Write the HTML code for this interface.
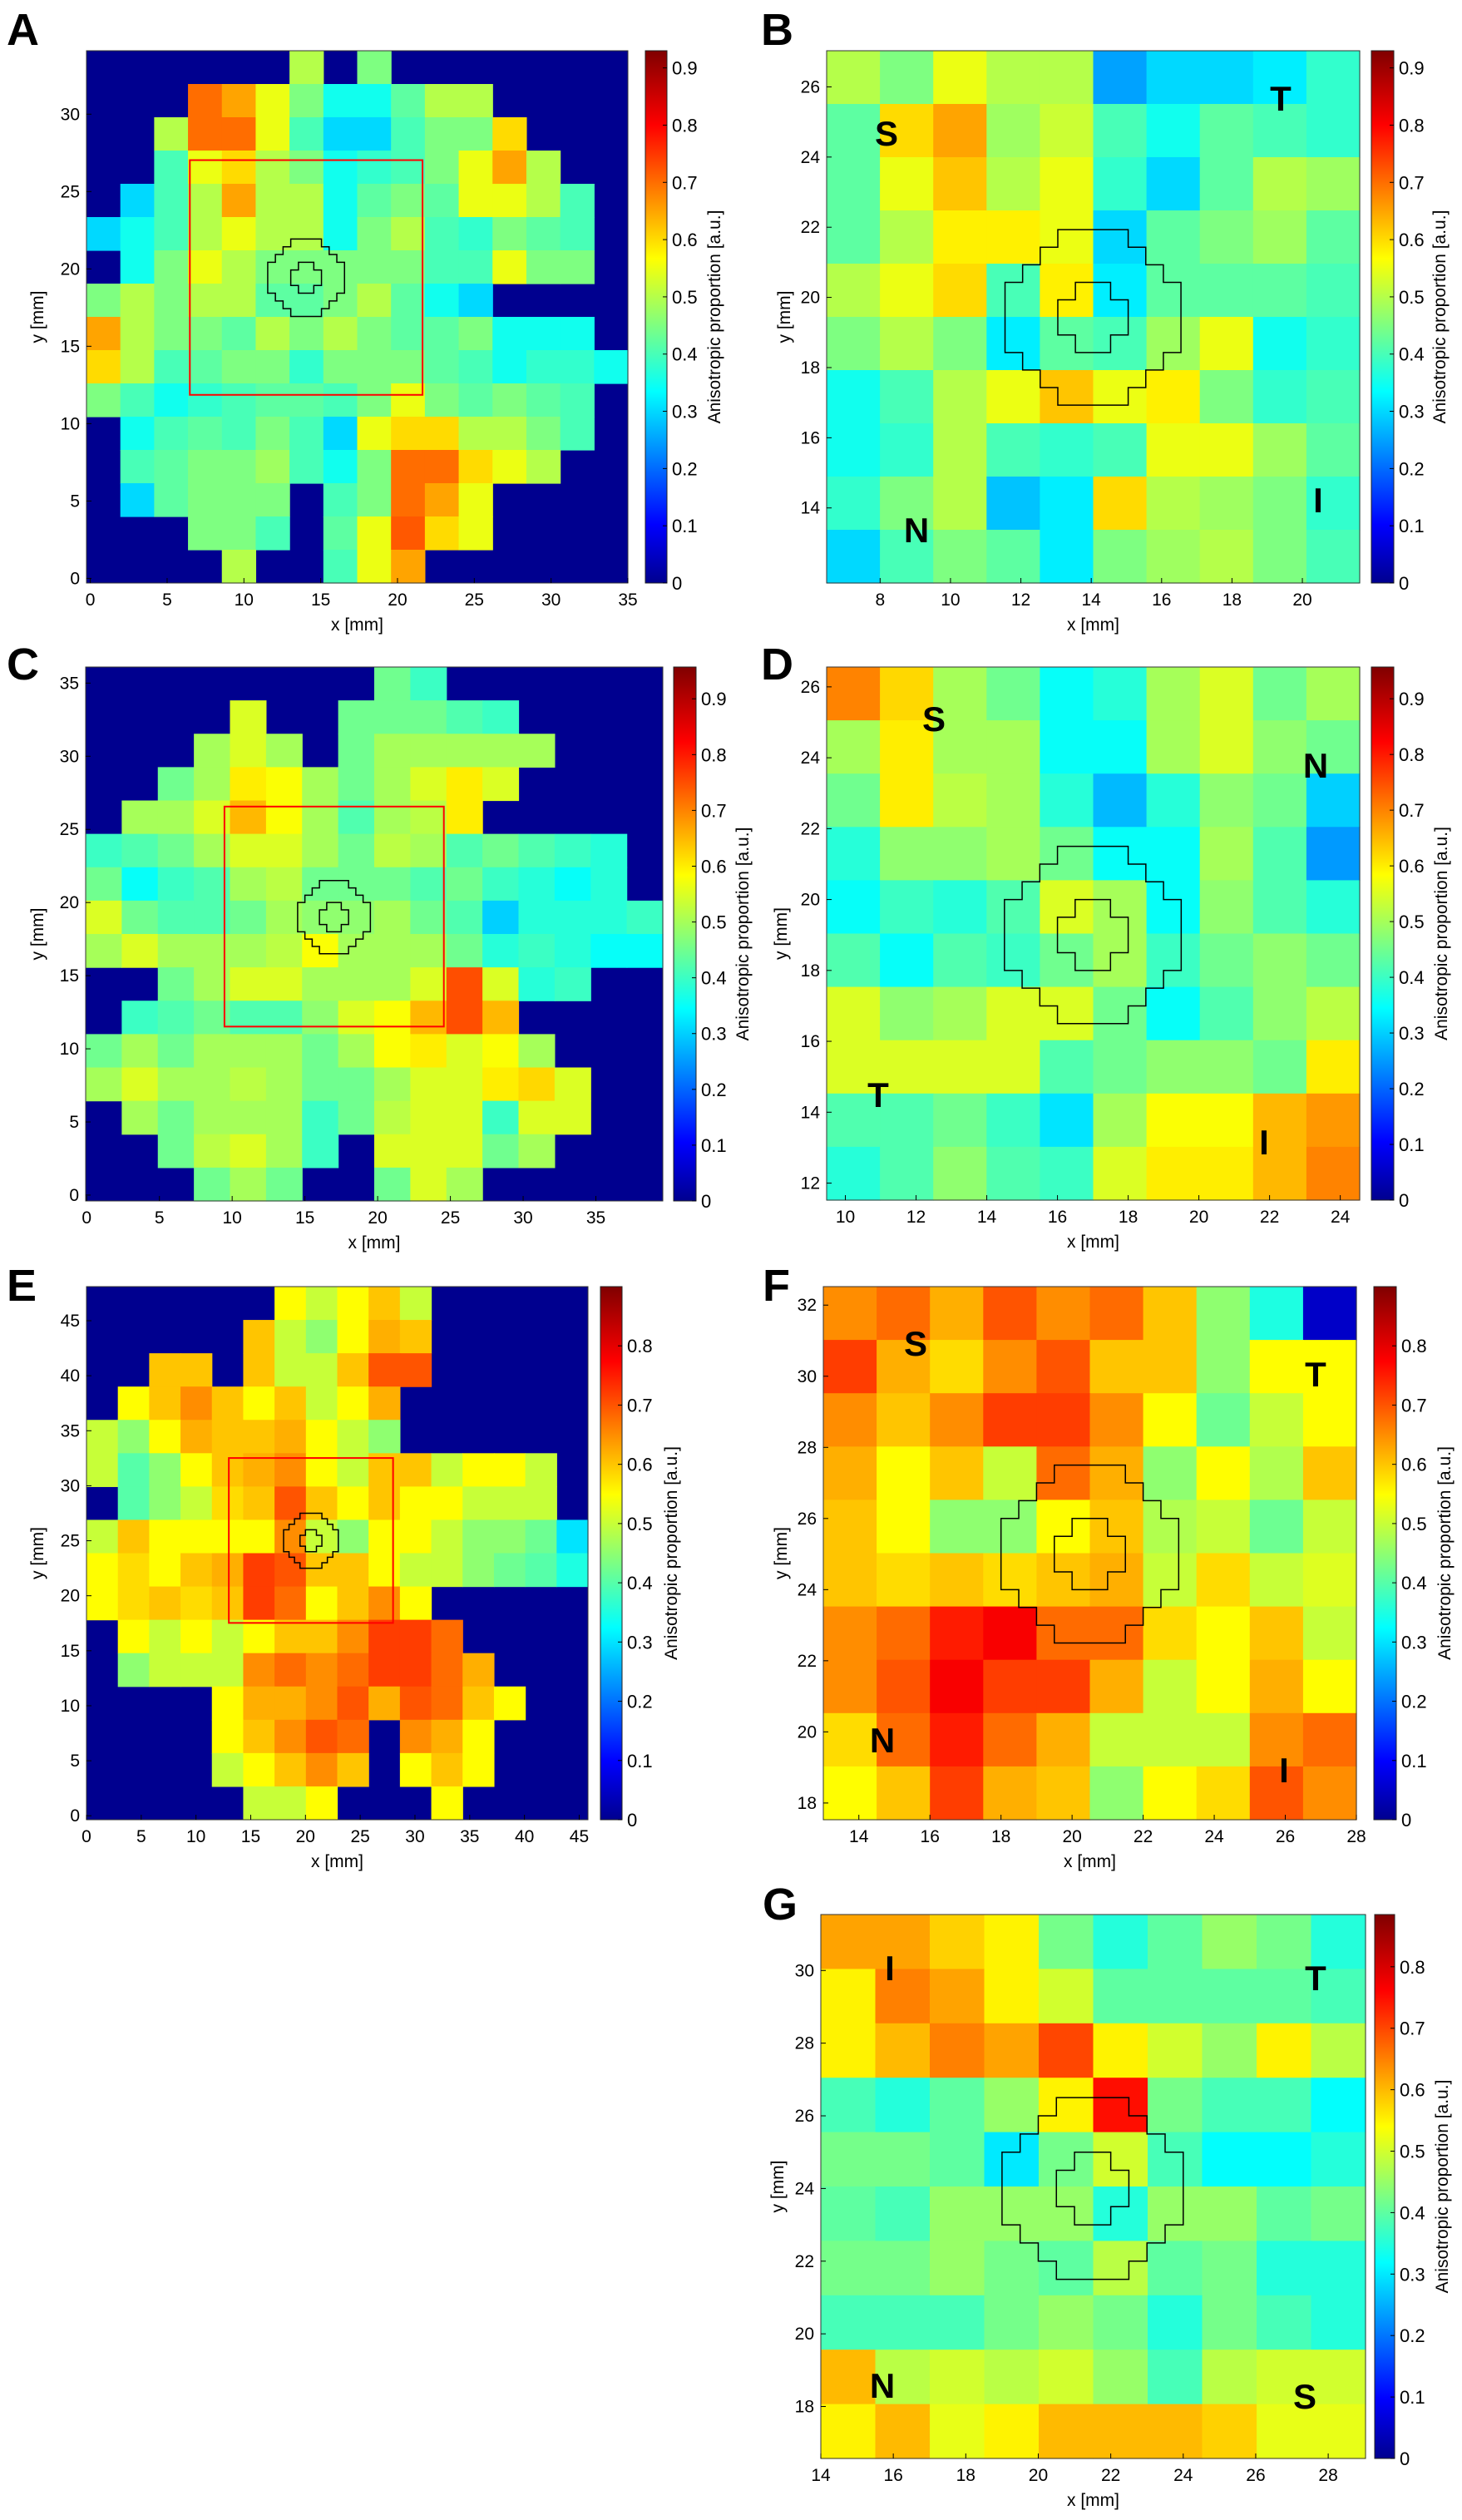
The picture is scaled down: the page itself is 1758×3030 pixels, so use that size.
<!DOCTYPE html>
<html><head><meta charset="utf-8"><style>
html,body{margin:0;padding:0;background:#fff;}
svg{display:block;}
text{font-family:"Liberation Sans",sans-serif;fill:#000;}
</style></head><body>
<svg id="fig" xmlns="http://www.w3.org/2000/svg" width="1758" height="3030" viewBox="0 0 1758 3030">
<defs>
<linearGradient id="jet" x1="0" y1="1" x2="0" y2="0">
<stop offset="0" stop-color="#00008f"/><stop offset="0.11" stop-color="#0000ff"/><stop offset="0.36" stop-color="#00ffff"/><stop offset="0.61" stop-color="#ffff00"/><stop offset="0.86" stop-color="#ff0000"/><stop offset="1" stop-color="#800000"/>
</linearGradient>
</defs>
</svg>
<script>
// ---------- data ----------
const aValues = [
[0,0,0,0,0,0,0.5,0,0.45,0,0,0,0,0,0,0],
[0,0,0,0.7,0.65,0.55,0.45,0.35,0.35,0.42,0.5,0.5,0,0,0,0],
[0,0,0.5,0.7,0.7,0.55,0.4,0.3,0.3,0.4,0.45,0.45,0.6,0,0,0],
[0,0,0.4,0.55,0.6,0.5,0.45,0.35,0.38,0.4,0.45,0.55,0.65,0.5,0,0],
[0,0.3,0.4,0.5,0.65,0.5,0.5,0.35,0.42,0.45,0.42,0.55,0.55,0.5,0.4,0],
[0.3,0.35,0.4,0.5,0.55,0.5,0.5,0.35,0.45,0.5,0.4,0.38,0.45,0.42,0.4,0],
[0,0.35,0.45,0.55,0.5,0.45,0.45,0.45,0.45,0.45,0.4,0.4,0.55,0.45,0.45,0],
[0.45,0.5,0.45,0.5,0.5,0.42,0.42,0.45,0.5,0.42,0.35,0.3,0,0,0,0],
[0.65,0.5,0.45,0.45,0.42,0.5,0.45,0.5,0.45,0.42,0.42,0.45,0.35,0.35,0.35,0],
[0.6,0.5,0.4,0.42,0.45,0.45,0.38,0.45,0.45,0.45,0.42,0.4,0.35,0.38,0.38,0.35],
[0.45,0.4,0.35,0.38,0.4,0.42,0.42,0.4,0.45,0.55,0.45,0.42,0.45,0.42,0.4,0],
[0,0.35,0.4,0.42,0.4,0.45,0.4,0.3,0.55,0.6,0.6,0.5,0.5,0.45,0.4,0],
[0,0.4,0.42,0.45,0.45,0.48,0.4,0.35,0.45,0.7,0.7,0.6,0.55,0.5,0,0],
[0,0.3,0.42,0.45,0.45,0.45,0,0.4,0.45,0.7,0.65,0.55,0,0,0,0],
[0,0,0,0.45,0.45,0.4,0,0.42,0.55,0.72,0.6,0.55,0,0,0,0],
[0,0,0,0,0.5,0,0,0.4,0.55,0.65,0,0,0,0,0,0]];
const bValues = [
[0.5,0.45,0.55,0.5,0.5,0.25,0.3,0.3,0.32,0.38],
[0.42,0.6,0.65,0.48,0.52,0.4,0.35,0.42,0.4,0.38],
[0.42,0.55,0.62,0.5,0.55,0.38,0.3,0.42,0.5,0.48],
[0.42,0.5,0.58,0.58,0.55,0.3,0.42,0.45,0.48,0.42],
[0.5,0.55,0.6,0.4,0.58,0.32,0.42,0.42,0.42,0.4],
[0.45,0.5,0.45,0.32,0.42,0.4,0.48,0.55,0.35,0.38],
[0.35,0.4,0.5,0.55,0.62,0.55,0.58,0.45,0.38,0.4],
[0.35,0.38,0.5,0.4,0.38,0.4,0.55,0.55,0.48,0.42],
[0.38,0.45,0.5,0.28,0.32,0.6,0.5,0.48,0.45,0.38],
[0.3,0.4,0.45,0.42,0.32,0.45,0.48,0.5,0.45,0.4]];
const cValues = [
[0,0,0,0,0,0,0,0,0.45,0.4,0,0,0,0,0,0],
[0,0,0,0,0.55,0,0,0.45,0.45,0.45,0.42,0.4,0,0,0,0],
[0,0,0,0.5,0.55,0.5,0,0.45,0.5,0.5,0.5,0.5,0.5,0,0,0],
[0,0,0.45,0.5,0.6,0.58,0.5,0.45,0.5,0.55,0.6,0.55,0,0,0,0],
[0,0.5,0.5,0.55,0.65,0.58,0.5,0.42,0.5,0.52,0.6,0,0,0,0,0],
[0.4,0.42,0.45,0.5,0.55,0.55,0.5,0.45,0.52,0.5,0.42,0.45,0.42,0.4,0.38,0],
[0.45,0.35,0.4,0.42,0.5,0.52,0.45,0.45,0.45,0.42,0.45,0.4,0.38,0.35,0.38,0],
[0.55,0.45,0.42,0.42,0.45,0.5,0.48,0.48,0.5,0.45,0.42,0.3,0.38,0.38,0.38,0.4],
[0.5,0.55,0.5,0.5,0.5,0.52,0.58,0.5,0.5,0.5,0.45,0.38,0.4,0.38,0.35,0.35],
[0,0,0.45,0.5,0.55,0.55,0.5,0.5,0.5,0.55,0.75,0.55,0.38,0.4,0,0],
[0,0.4,0.42,0.45,0.42,0.42,0.48,0.55,0.58,0.65,0.75,0.65,0,0,0,0],
[0.45,0.5,0.45,0.5,0.5,0.5,0.45,0.5,0.58,0.6,0.55,0.58,0.5,0,0,0],
[0.5,0.55,0.5,0.5,0.52,0.5,0.45,0.45,0.5,0.55,0.55,0.6,0.62,0.55,0,0],
[0,0.5,0.45,0.5,0.5,0.5,0.4,0.45,0.52,0.55,0.55,0.4,0.55,0.55,0,0],
[0,0,0.45,0.52,0.55,0.5,0.4,0,0.55,0.55,0.55,0.45,0.5,0,0,0],
[0,0,0,0.45,0.5,0.45,0,0,0.45,0.55,0.5,0,0,0,0,0]];
const dValues = [
[0.7,0.62,0.5,0.45,0.35,0.38,0.5,0.55,0.45,0.5],
[0.5,0.6,0.5,0.5,0.35,0.35,0.5,0.55,0.48,0.45],
[0.45,0.6,0.52,0.5,0.38,0.28,0.38,0.48,0.45,0.3],
[0.38,0.48,0.48,0.5,0.45,0.35,0.35,0.5,0.42,0.25],
[0.35,0.4,0.38,0.42,0.55,0.5,0.35,0.48,0.42,0.38],
[0.42,0.35,0.42,0.4,0.45,0.5,0.4,0.45,0.48,0.45],
[0.55,0.48,0.5,0.55,0.55,0.45,0.35,0.42,0.48,0.52],
[0.55,0.55,0.55,0.55,0.42,0.45,0.48,0.48,0.45,0.6],
[0.42,0.42,0.45,0.4,0.32,0.5,0.58,0.58,0.65,0.68],
[0.38,0.42,0.48,0.42,0.4,0.55,0.6,0.6,0.65,0.7]];
const eValues = [
[0,0,0,0,0,0,0.55,0.5,0.55,0.6,0.5,0,0,0,0,0],
[0,0,0,0,0,0.6,0.5,0.45,0.55,0.62,0.6,0,0,0,0,0],
[0,0,0.6,0.6,0,0.6,0.5,0.5,0.6,0.7,0.7,0,0,0,0,0],
[0,0.55,0.6,0.65,0.6,0.55,0.6,0.5,0.55,0.62,0,0,0,0,0,0],
[0.5,0.45,0.55,0.62,0.6,0.6,0.62,0.55,0.5,0.45,0,0,0,0,0,0],
[0.5,0.4,0.45,0.55,0.6,0.62,0.65,0.55,0.5,0.6,0.6,0.5,0.55,0.55,0.5,0],
[0,0.4,0.45,0.5,0.58,0.6,0.7,0.6,0.55,0.6,0.55,0.55,0.5,0.5,0.5,0],
[0.5,0.6,0.55,0.55,0.55,0.55,0.65,0.5,0.45,0.55,0.55,0.5,0.45,0.45,0.42,0.3],
[0.55,0.58,0.55,0.6,0.62,0.72,0.7,0.6,0.6,0.55,0.5,0.5,0.45,0.42,0.4,0.35],
[0.55,0.58,0.6,0.58,0.6,0.72,0.68,0.55,0.6,0.65,0.55,0,0,0,0,0],
[0,0.55,0.5,0.55,0.5,0.55,0.6,0.6,0.65,0.72,0.72,0.68,0,0,0,0],
[0,0.45,0.5,0.5,0.5,0.65,0.68,0.65,0.68,0.72,0.72,0.68,0.62,0,0,0],
[0,0,0,0,0.55,0.62,0.62,0.65,0.7,0.62,0.7,0.68,0.6,0.55,0,0],
[0,0,0,0,0.55,0.6,0.65,0.7,0.68,0,0.65,0.62,0.55,0,0,0],
[0,0,0,0,0.5,0.55,0.6,0.65,0.6,0,0.55,0.6,0.55,0,0,0],
[0,0,0,0,0,0.5,0.5,0.55,0,0,0,0.55,0,0,0,0]];
const fValues = [
[0.65,0.68,0.62,0.7,0.65,0.68,0.6,0.45,0.35,0.05],
[0.72,0.62,0.58,0.65,0.7,0.6,0.6,0.45,0.55,0.55],
[0.65,0.6,0.65,0.72,0.72,0.65,0.55,0.42,0.5,0.55],
[0.62,0.55,0.6,0.5,0.68,0.62,0.45,0.55,0.48,0.6],
[0.6,0.55,0.45,0.45,0.55,0.6,0.48,0.5,0.42,0.5],
[0.6,0.58,0.6,0.58,0.6,0.62,0.5,0.58,0.5,0.52],
[0.65,0.68,0.75,0.78,0.68,0.68,0.58,0.55,0.6,0.5],
[0.65,0.7,0.78,0.72,0.72,0.62,0.5,0.55,0.62,0.55],
[0.58,0.68,0.75,0.68,0.62,0.5,0.5,0.5,0.65,0.68],
[0.55,0.6,0.72,0.62,0.6,0.45,0.55,0.58,0.7,0.65]];
const gValues = [
[0.62,0.62,0.58,0.55,0.42,0.35,0.4,0.45,0.42,0.35],
[0.55,0.65,0.62,0.55,0.5,0.4,0.4,0.4,0.4,0.38],
[0.55,0.6,0.65,0.62,0.7,0.55,0.5,0.45,0.55,0.48],
[0.38,0.35,0.4,0.45,0.55,0.75,0.42,0.38,0.38,0.32],
[0.42,0.42,0.4,0.3,0.42,0.5,0.38,0.32,0.32,0.35],
[0.4,0.38,0.45,0.45,0.45,0.35,0.45,0.45,0.4,0.42],
[0.42,0.42,0.45,0.42,0.4,0.48,0.4,0.42,0.35,0.35],
[0.38,0.38,0.38,0.42,0.45,0.42,0.35,0.42,0.38,0.35],
[0.6,0.48,0.5,0.48,0.5,0.45,0.38,0.48,0.5,0.5],
[0.55,0.6,0.52,0.55,0.6,0.6,0.6,0.58,0.52,0.52]];
const ticks5_35 = [0,5,10,15,20,25,30,35];
const ticks0_30 = [0,5,10,15,20,25,30];
const ticks0_45 = [0,5,10,15,20,25,30,35,40,45];
const bXTicks = [8,10,12,14,16,18,20];
const bYTicks = [14,16,18,20,22,24,26];
const dXTicks = [10,12,14,16,18,20,22,24];
const dYTicks = [12,14,16,18,20,22,24,26];
const fXTicks = [14,16,18,20,22,24,26,28];
const fYTicks = [18,20,22,24,26,28,30,32];
const gXTicks = [14,16,18,20,22,24,26,28];
const gYTicks = [18,20,22,24,26,28,30];
const cbTicks9 = [0,0.1,0.2,0.3,0.4,0.5,0.6,0.7,0.8,0.9];
const cbTicks8 = [0,0.1,0.2,0.3,0.4,0.5,0.6,0.7,0.8];

// ---------- helpers ----------
const NS = "http://www.w3.org/2000/svg";
const svg = document.getElementById('fig');
function mk(tag, attrs, parent){
  const e = document.createElementNS(NS, tag);
  for (const k in attrs) e.setAttribute(k, attrs[k]);
  (parent||svg).appendChild(e);
  return e;
}
const jetStops = [[0,[0,0,143]],[0.11,[0,0,255]],[0.36,[0,255,255]],[0.61,[255,255,0]],[0.86,[255,0,0]],[1,[128,0,0]]];
function jet(t){
  t = Math.max(0, Math.min(1, t));
  for (let i=1;i<jetStops.length;i++){
    if (t <= jetStops[i][0]){
      const a = jetStops[i-1], b = jetStops[i];
      const f = (t-a[0])/(b[0]-a[0]);
      const c = a[1].map((v,k)=>Math.round(v+(b[1][k]-v)*f));
      return 'rgb('+c.join(',')+')';
    }
  }
  return 'rgb(128,0,0)';
}
const outerPoly = [[-1,2.5],[1,2.5],[1,2],[1.5,2],[1.5,1.5],[2,1.5],[2,1],[2.5,1],[2.5,-1],[2,-1],[2,-1.5],[1.5,-1.5],[1.5,-2],[1,-2],[1,-2.5],[-1,-2.5],[-1,-2],[-1.5,-2],[-1.5,-1.5],[-2,-1.5],[-2,-1],[-2.5,-1],[-2.5,1],[-2,1],[-2,1.5],[-1.5,1.5],[-1.5,2],[-1,2]];
const innerPoly = [[-0.5,1],[0.5,1],[0.5,0.5],[1,0.5],[1,-0.5],[0.5,-0.5],[0.5,-1],[-0.5,-1],[-0.5,-0.5],[-1,-0.5],[-1,0.5],[-0.5,0.5]];

function panel(c){
  const g = mk('g', {});
  
  
  const sx = v => c.px0 + (v - c.xr[0]) / (c.xr[1]-c.xr[0]) * (c.px1-c.px0);
  const sy = v => c.py1 - (v - c.yr[0]) / (c.yr[1]-c.yr[0]) * (c.py1-c.py0);
  // panel letter
  const L = mk('text', {x:c.lx, y:c.ly, 'font-size':54, 'font-weight':'bold'}, g);
  L.textContent = c.id;
  
  
  // heatmap
  const hm = mk('g', {}, g);
  
  
  mk('rect', {x:c.px0, y:c.py0, width:c.px1-c.px0, height:c.py1-c.py0, fill:jet(0)}, hm);
  const rows = c.vals.length, cols = c.vals[0].length;
  const dx = (c.xr[1]-c.xr[0])/cols, dy = (c.yr[1]-c.yr[0])/rows;
  for (let r=0;r<rows;r++){
    for (let k=0;k<cols;k++){
      const v = c.vals[r][k];
      if (v <= 0) continue;
      const x0 = sx(c.xr[0]+k*dx), x1 = sx(c.xr[0]+(k+1)*dx);
      const y0 = sy(c.yr[1]-r*dy), y1 = sy(c.yr[1]-(r+1)*dy);
      const cell = mk('rect', {x:x0, y:y0, width:x1-x0+0.6, height:y1-y0+0.6, fill:jet(v/c.vmax)}, hm);
      
      
    }
  }
  // red rectangle
  if (c.rect){
    const rr = mk('rect', {x:sx(c.rect[0]), y:sy(c.rect[3]), width:sx(c.rect[1])-sx(c.rect[0]), height:sy(c.rect[2])-sy(c.rect[3]), fill:'none', stroke:'#ff0000', 'stroke-width':2}, g);
    
    
  }
  // contours
  [outerPoly, innerPoly].forEach((poly, i) => {
    const pts = poly.map(p => sx(c.center[0]+p[0]) + ',' + sy(c.center[1]+p[1])).join(' ');
    const pg = mk('polygon', {points:pts, fill:'none', stroke:'#000', 'stroke-width':1.5}, g);
    
    
  });
  mk('rect', {x:c.px0, y:c.py0, width:c.px1-c.px0, height:c.py1-c.py0, fill:'none', stroke:'#333', 'stroke-width':1}, g);
  // x ticks
  c.xticks.forEach(t => {
    const x = sx(t);
    mk('line', {x1:x, y1:c.py1, x2:x, y2:c.py1-6, stroke:'#000', 'stroke-width':1}, g);
    const tx = mk('text', {x:x, y:c.py1+27, 'font-size':21, 'text-anchor':'middle'}, g);
    tx.textContent = t;
    
    
  });
  c.yticks.forEach(t => {
    const y = sy(t);
    mk('line', {x1:c.px0, y1:y, x2:c.px0+6, y2:y, stroke:'#000', 'stroke-width':1}, g);
    const ty = mk('text', {x:c.px0-8, y:y+7, 'font-size':21, 'text-anchor':'end'}, g);
    ty.textContent = t;
    
    
  });
  const xl = mk('text', {x:(c.px0+c.px1)/2, y:c.py1+57, 'font-size':21, 'text-anchor':'middle'}, g);
  xl.textContent = 'x [mm]';
  
  
  const ym = (c.py0+c.py1)/2;
  const yl = mk('text', {x:c.ylx, y:ym, 'font-size':21, 'text-anchor':'middle', transform:'rotate(-90 '+c.ylx+' '+ym+')'}, g);
  yl.textContent = 'y [mm]';
  
  
  // colorbar
  const cb = mk('rect', {x:c.cb[0], y:c.py0, width:c.cb[1]-c.cb[0], height:c.py1-c.py0, fill:'url(#jet)', stroke:'#222', 'stroke-width':1}, g);
  
  
  const cy = v => c.py1 - v/c.vmax*(c.py1-c.py0);
  c.cbticks.forEach(t => {
    const y = cy(t);
    mk('line', {x1:c.cb[1], y1:y, x2:c.cb[1]-5, y2:y, stroke:'#000', 'stroke-width':1}, g);
    const tl = mk('text', {x:c.cb[1]+6, y:y+8, 'font-size':22}, g);
    tl.textContent = t;
    
    
  });
  const cl = mk('text', {x:c.cblx, y:ym, 'font-size':21, 'text-anchor':'middle', transform:'rotate(-90 '+c.cblx+' '+ym+')'}, g);
  cl.textContent = 'Anisotropic proportion [a.u.]';
  
  
  // orientation letters
  (c.orient||[]).forEach(o => {
    const ot = mk('text', {x:o[1], y:o[2]+14, 'font-size':42, 'font-weight':'bold', 'text-anchor':'middle'}, g);
    ot.textContent = o[0];
    
    
  });
}

panel({id:'A', lx:8, ly:54, px0:104, px1:755, py0:61, py1:701, xr:[-0.25,35], yr:[-0.3,34.1], vals:aValues, vmax:0.93,
  xticks:ticks5_35, yticks:ticks0_30, cb:[776,802], cbticks:cbTicks9, cblx:866, ylx:52,
  rect:[6.48,21.63,11.86,27.03], center:[14.05,19.43]});
panel({id:'B', lx:915, ly:54, px0:994, px1:1635, py0:61, py1:701, xr:[6.48,21.63], yr:[11.86,27.03], vals:bValues, vmax:0.93,
  xticks:bXTicks, yticks:bYTicks, cb:[1649,1676], cbticks:cbTicks9, cblx:1738, ylx:950, center:[14.05,19.43],
  orient:[['S',1066,161],['T',1540,119],['N',1102,638],['I',1585,602]]});
panel({id:'C', lx:8, ly:817, px0:103, px1:797, py0:802, py1:1444, xr:[-0.07,39.6], yr:[-0.4,36.1], vals:cValues, vmax:0.957,
  xticks:ticks5_35, yticks:ticks5_35, cb:[810,837], cbticks:cbTicks9, cblx:900, ylx:52,
  rect:[9.47,24.55,11.52,26.56], center:[17,19]});
panel({id:'D', lx:915, ly:817, px0:994, px1:1635, py0:802, py1:1443, xr:[9.47,24.55], yr:[11.52,26.56], vals:dValues, vmax:0.957,
  xticks:dXTicks, yticks:dYTicks, cb:[1649,1676], cbticks:cbTicks9, cblx:1740, ylx:946, center:[17,19],
  orient:[['S',1123,865],['N',1582,921],['T',1056,1317],['I',1520,1374]]});
panel({id:'E', lx:8, ly:1564, px0:104, px1:707, py0:1547, py1:2188, xr:[0,45.8], yr:[-0.36,48.1], vals:eValues, vmax:0.9,
  xticks:ticks0_45, yticks:ticks0_45, cb:[722,748], cbticks:cbTicks8, cblx:814, ylx:52,
  rect:[13,28,17.53,32.52], center:[20.5,25]});
panel({id:'F', lx:917, ly:1564, px0:990, px1:1631, py0:1547, py1:2188, xr:[13,28], yr:[17.53,32.52], vals:fValues, vmax:0.9,
  xticks:fXTicks, yticks:fYTicks, cb:[1652,1679], cbticks:cbTicks8, cblx:1744, ylx:946, center:[20.5,25],
  orient:[['S',1101,1616],['T',1582,1653],['N',1061,2093],['I',1544,2129]]});
panel({id:'G', lx:917, ly:2308, px0:987, px1:1642, py0:2302, py1:2956, xr:[14,29.03], yr:[16.57,31.54], vals:gValues, vmax:0.885,
  xticks:gXTicks, yticks:gYTicks, cb:[1653,1677], cbticks:cbTicks8, cblx:1741, ylx:942, center:[21.5,24],
  orient:[['I',1070,2367],['T',1582,2379],['N',1061,2869],['S',1569,2882]]});
</script>
</body></html>
